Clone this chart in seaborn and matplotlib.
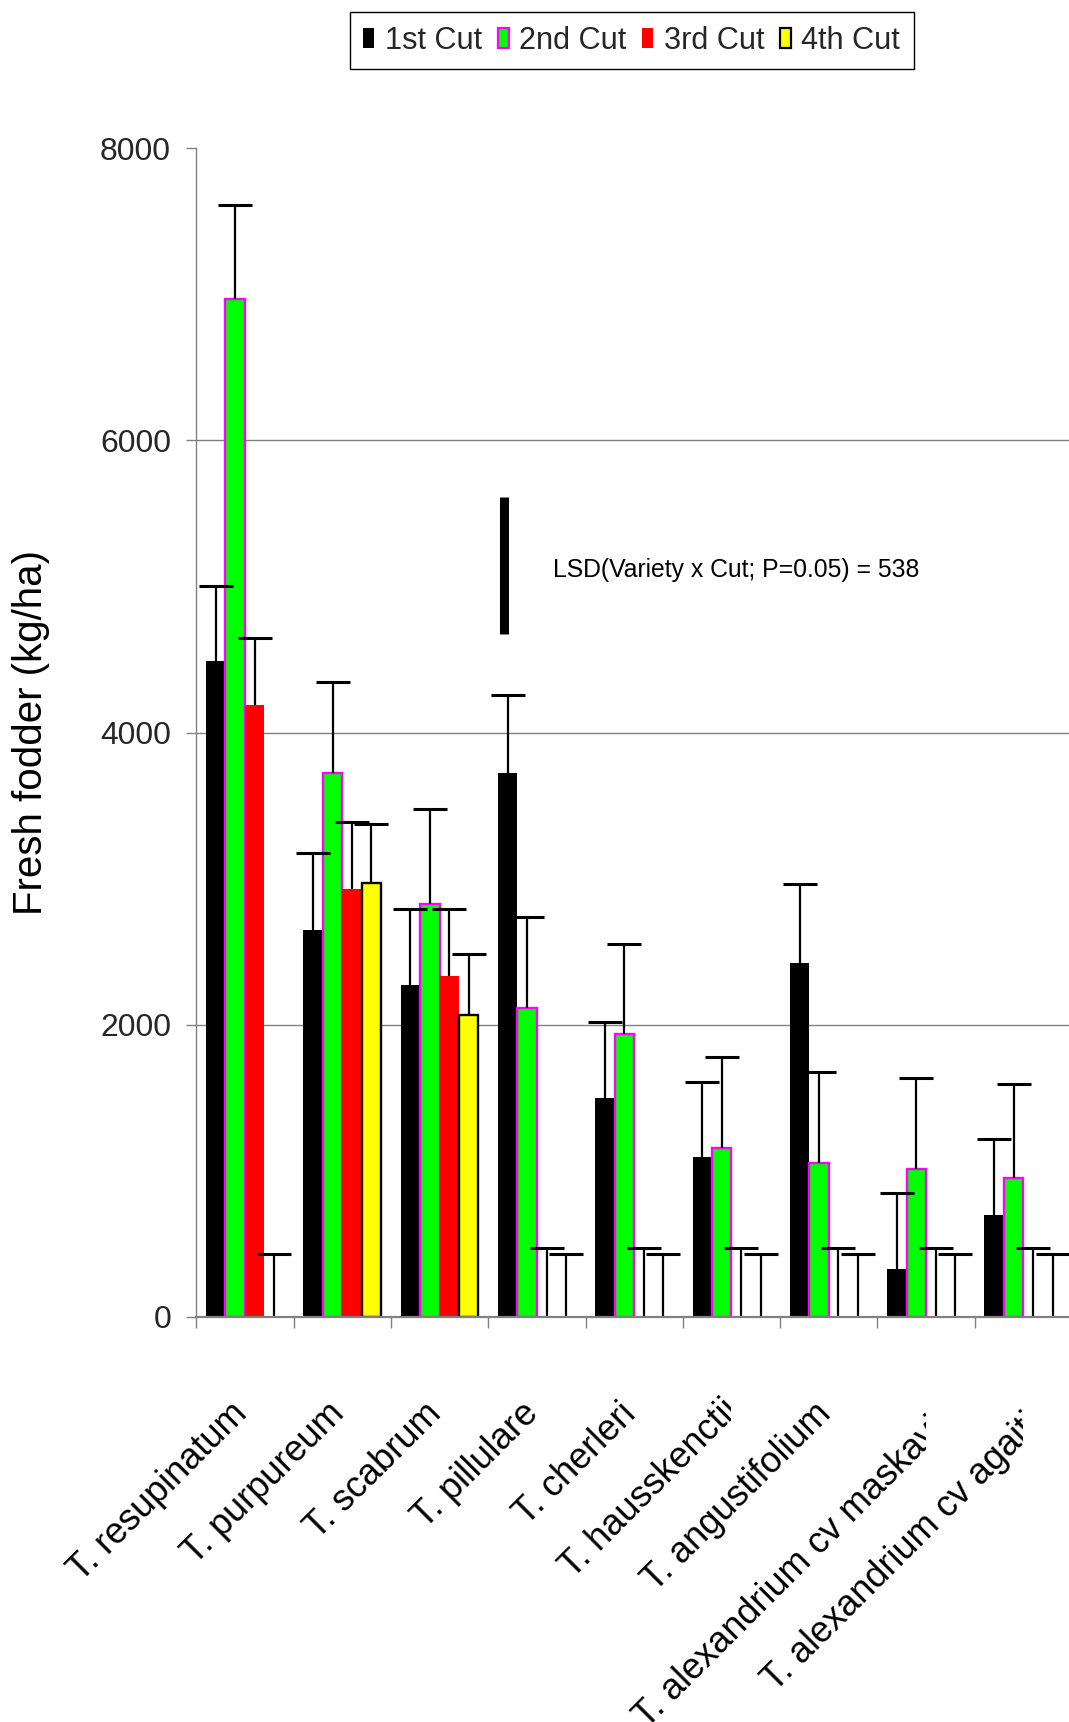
import numpy as np
import pandas as pd
import seaborn as sns
import matplotlib
matplotlib.use("Agg")
import matplotlib.pyplot as plt
from matplotlib import font_manager as fm
from matplotlib.patches import Patch
from matplotlib.font_manager import FontProperties
from matplotlib.transforms import (Bbox, TransformedBbox, ScaledTranslation,
                                   blended_transform_factory)

nan = np.nan

# ---- data -------------------------------------------------------------
varieties = ["T. resupinatum", "T. purpureum", "T. scabrum", "T. pillulare",
             "T. cherleri", "T. hausskenctii", "T. angustifolium",
             "T. alexandrium cv maskavi", "T. alexandrium cv agaiti"]
cuts = ["1st Cut", "2nd Cut", "3rd Cut", "4th Cut"]

# mean fresh fodder yield (kg/ha) per cut
cut1 = [4490, 2650, 2270, 3720, 1500, 1095, 2425, 330, 695]
cut2 = [6970, 3720, 2825, 2115, 1935, 1155, 1050, 1010, 950]
cut3 = [4190, 2930, 2330, nan, nan, nan, nan, nan, nan]
cut4 = [nan, 2970, 2065, nan, nan, nan, nan, nan, nan]

# upper error (kg/ha) per cut
err1 = [515, 525, 520, 540, 520, 515, 535, 520, 520]
err2 = [640, 625, 650, 625, 620, 625, 625, 625, 640]
err3 = [455, 460, 460, 470, 470, 470, 470, 470, 470]
err4 = [430, 405, 420, 430, 430, 430, 430, 430, 430]

y_ticks = [0, 2000, 4000, 6000, 8000]

lsd_text = "LSD(Variety x Cut; P=0.05) = 538"
lsd_low, lsd_high = 4675, 5615

# ---- style ------------------------------------------------------------
fill_colors = ["#000000", "#00FF00", "#FF0000", "#FFFF00"]
edge_colors = [None, "#FF00FF", None, "#000000"]
grey = "#808080"

sns.set_theme(style="white")
installed = {f.name for f in fm.fontManager.ttflist}
narrow = "Liberation Sans Narrow" if "Liberation Sans Narrow" in installed else "Liberation Sans"
scale = 1.0 if narrow == "Liberation Sans Narrow" else 0.85
plt.rcParams["font.family"] = ["Liberation Sans", "DejaVu Sans"]

values = [cut1, cut2, cut3, cut4]
errors = [err1, err2, err3, err4]
rows = []
for cut, vals in zip(cuts, values):
    for var, v in zip(varieties, vals):
        rows.append({"variety": var, "cut": cut, "fodder": v})
df = pd.DataFrame(rows)

fig = plt.figure(figsize=(10.69, 17.22), dpi=100)
ax = fig.add_axes([196.3 / 1069, 405.3 / 1722, 875.7 / 1069, 1168.4 / 1722])

sns.barplot(data=df, x="variety", y="fodder", hue="cut", order=varieties,
            hue_order=cuts, palette=dict(zip(cuts, fill_colors)),
            saturation=1, errorbar=None, width=0.8, legend=False,
            linewidth=0, ax=ax, zorder=3)

# outline the 2nd and 4th cut bars
for p in ax.patches:
    fc = matplotlib.colors.to_hex(p.get_facecolor())
    for col, ec in zip(fill_colors, edge_colors):
        if fc.lower() == col.lower() and ec is not None:
            p.set_edgecolor(ec)
            p.set_linewidth(1.7)

# upper error bars only, dodged like the bars
n_cut = len(cuts)
bar_w = 0.8 / n_cut
x_base = np.arange(len(varieties))
for j, (vals, errs) in enumerate(zip(values, errors)):
    xpos = x_base - 0.4 + bar_w * (j + 0.5)
    ybase = np.nan_to_num(np.asarray(vals, dtype=float))
    _, caps, _ = ax.errorbar(xpos, ybase, yerr=[np.zeros(len(errs)), errs],
                             fmt="none", ecolor="black", elinewidth=1.6,
                             capsize=12.5, capthick=2.2, zorder=4)
    for cap in caps:
        if np.allclose(np.asarray(cap.get_ydata(), dtype=float), ybase):
            cap.set_visible(False)

# LSD marker and text
ax.vlines(2.667, lsd_low, lsd_high, colors="black", linewidth=6.5, zorder=5)
ax.text(3.166, (lsd_low + lsd_high) / 2 - 30, lsd_text, family=narrow,
        fontsize=21 * scale, va="center", ha="left", color="black")

# axes
ax.set_xlim(-0.5, len(varieties) - 0.5)
ax.set_ylim(0, 8000)
ax.set_yticks(y_ticks)
ax.set_yticklabels([str(t) for t in y_ticks])
for t in y_ticks[1:-1]:
    ax.axhline(t, color=grey, linewidth=1.0, zorder=1)
for s in ["top", "right"]:
    ax.spines[s].set_visible(False)
ax.spines["left"].set_color(grey)
ax.spines["left"].set_linewidth(1.0)
ax.spines["bottom"].set_color(grey)
ax.spines["bottom"].set_linewidth(1.6)
ax.spines["bottom"].set_zorder(6)

ax.tick_params(axis="y", direction="out", length=7.2, width=1.0, color=grey,
               pad=11, labelsize=27 * scale, left=True)
for lab in ax.get_yticklabels():
    lab.set_family(narrow)

ax.set_xticks(x_base)
ax.set_xticklabels([])
ax.tick_params(axis="x", which="major", length=0, bottom=False)
ax.set_xticks(np.arange(len(varieties) + 1) - 0.5, minor=True)
ax.tick_params(axis="x", which="minor", direction="out", length=8, width=1.0,
               color=grey, bottom=True)
ax.set_xlabel("")

ax.set_ylabel("Fresh fodder (kg/ha)", fontsize=29, color="black")
ax.yaxis.set_label_coords(-0.1666, 0.5)

# rotated category labels; the long ones overrun the category centre and are cut there
shift_px = [(9, -7), (9, -7), (9, -7), (9, -7), (9, -7), (14, -4), (9, -7),
            (26, -22), (24, -18)]
long_label = [False, False, False, False, False, True, False, True, True]
blend = blended_transform_factory(ax.transData, ax.transAxes)
for i, (name, (dx, dy), cut_it) in enumerate(zip(varieties, shift_px, long_label)):
    tr = blend + ScaledTranslation(dx / 100, dy / 100, fig.dpi_scale_trans)
    t = ax.text(i, -0.062, name, transform=tr, rotation=45, ha="right",
                va="top", fontsize=26, color="black")
    t.set_clip_path(None)
    if cut_it:
        t.set_clip_on(True)
        t.set_clip_box(TransformedBbox(Bbox([[i - 6, -1.0], [i, 0.0]]), blend))

# legend
handles = [Patch(facecolor=fc, edgecolor=(ec if ec else fc), linewidth=(1.6 if ec else 0))
           for fc, ec in zip(fill_colors, edge_colors)]
leg = fig.legend(handles, cuts, loc="center", bbox_to_anchor=(0.591, 0.9764),
                 ncol=4, prop=FontProperties(family=narrow, size=26 * scale),
                 frameon=True, fancybox=False, edgecolor="black", framealpha=1,
                 handlelength=0.36, handleheight=0.64, handletextpad=0.35,
                 columnspacing=0.5, borderpad=0.45, borderaxespad=0)
leg.get_frame().set_linewidth(1.0)

fig.savefig("out.png", dpi=100, facecolor="white")
